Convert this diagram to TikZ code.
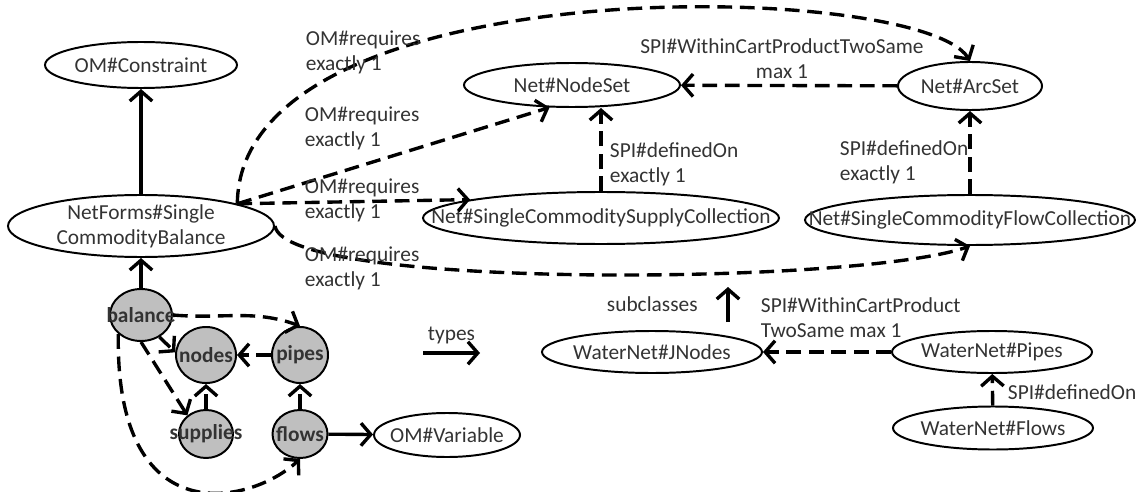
\documentclass[tikz,border=0pt]{standalone}
\usepackage{fontspec}
\setmainfont{Carlito}
\usetikzlibrary{shapes.geometric,arrows.meta}

\newcommand{\lblfont}{\fontsize{15.2}{17.8}\selectfont}

\tikzset{
  >={Straight Barb[length=7pt,width=16pt]},
  cls/.style={ellipse, draw, line width=1.4pt, inner sep=0pt},
  inst/.style={ellipse, draw, fill=gray!50, line width=1.4pt, inner sep=0pt},
  txt/.style={text=black!80},
  bold/.style={text=black!80, font=\lblfont\bfseries},
  isa/.style={->, line width=2.4pt},
  rel/.style={->, line width=2.4pt, dash pattern=on 10.5pt off 5.5pt},
}

\begin{document}
\begin{tikzpicture}[font=\lblfont]
  \useasboundingbox (0,0) rectangle (28.4,-12.3);

  % classes
  \node[cls, minimum width=4.8cm, minimum height=1.15cm,
        label={[txt]center:OM\#Constraint}] (con) at (3.525,-1.625) {};
  \node[cls, minimum width=6.65cm, minimum height=1.55cm,
        label={[txt,align=center]center:NetForms\#Single\\CommodityBalance}] (bal) at (3.525,-5.65) {};
  \node[cls, minimum width=5.4cm, minimum height=1.1cm,
        label={[txt]center:Net\#NodeSet}] (nodeset) at (14.3,-2.125) {};
  \node[cls, minimum width=3.6cm, minimum height=1.2cm,
        label={[txt]center:Net\#ArcSet}] (arcset) at (24.25,-2.15) {};
  \node[cls, minimum width=8.9cm, minimum height=1.3cm,
        label={[txt]center:Net\#SingleCommoditySupplyCollection}] (supply) at (15.025,-5.45) {};
  \node[cls, minimum width=8.25cm, minimum height=1.25cm,
        label={[txt]center:Net\#SingleCommodityFlowCollection}] (flowc) at (24.25,-5.5) {};
  \node[cls, minimum width=3.65cm, minimum height=1.1cm,
        label={[txt]center:OM\#Variable}] (var) at (11.175,-10.875) {};
  \node[cls, minimum width=5.5cm, minimum height=1.05cm,
        label={[txt]center:WaterNet\#JNodes}] (jnodes) at (16.3,-8.8) {};
  \node[cls, minimum width=5cm, minimum height=1.05cm,
        label={[txt]center:WaterNet\#Pipes}] (wpipes) at (24.8,-8.8) {};
  \node[cls, minimum width=5cm, minimum height=1.075cm,
        label={[txt]center:WaterNet\#Flows}] (wflows) at (24.825,-10.7) {};

  % instances
  \node[inst, minimum width=1.55cm, minimum height=1.3cm,
        label={[bold]center:balance}] (balance) at (3.525,-7.875) {};
  \node[inst, minimum width=1.5cm, minimum height=1.4cm,
        label={[bold]center:nodes}] (nodes) at (5.15,-8.875) {};
  \node[inst, minimum width=1.4cm, minimum height=1.4cm,
        label={[bold]center:pipes}] (pipes) at (7.5,-8.875) {};
  \node[inst, minimum width=1.35cm, minimum height=1.2cm,
        label={[bold]center:supplies}] (supplies) at (5.15,-10.85) {};
  \node[inst, minimum width=1.375cm, minimum height=1.2cm,
        label={[bold]center:flows}] (flows) at (7.5,-10.85) {};

  % class relations
  \draw[isa] (bal) -- (con);
  \draw[rel] (bal.13) .. controls (6,0.875) and (23,0.5) .. (arcset.north);
  \draw[rel] (bal.13) -- (nodeset.225);
  \draw[rel] (bal.13) -- (supply.172);
  \draw[rel] (bal.east) .. controls (7.125,-7.25) and (21.5,-7.125) .. (flowc.south);
  \draw[rel] (supply.north) -- (supply.north |- nodeset.south);
  \draw[rel] (arcset) -- (nodeset);
  \draw[rel] (flowc) -- (arcset);
  \draw[rel] (wpipes) -- (jnodes);
  \draw[rel] (wflows) -- (wpipes);

  \node[txt, anchor=west, align=left] (req1) at (7.525,-1.3) {OM\#requires\\exactly 1};
  \node[txt, anchor=west, align=left] (req2) at (7.5,-3.2) {OM\#requires\\exactly 1};
  \node[txt, anchor=west, align=left] (req3) at (7.5,-5.0) {OM\#requires\\exactly 1};
  \node[txt, anchor=west, align=left] (req4) at (7.5,-6.7) {OM\#requires\\exactly 1};
  \node[txt, align=center] (cart1) at (19.55,-1.475) {SPI\#WithinCartProductTwoSame\\max 1};
  \node[txt, anchor=west, align=left] (def1) at (15.125,-4.1) {SPI\#definedOn\\exactly 1};
  \node[txt, anchor=west, align=left] (def2) at (20.875,-4.05) {SPI\#definedOn\\exactly 1};
  \node[txt, anchor=west, align=left] (cart2) at (18.9,-7.95) {SPI\#WithinCartProduct\\TwoSame max 1};
  \node[txt, anchor=west] (def3) at (25.075,-9.8) {SPI\#definedOn};

  % instance relations
  \draw[isa] (balance) -- (bal);
  \draw[rel] (balance.east) to[out=-5, in=160] (pipes.north);
  \draw[rel] (balance.-50) -- (nodes.175);
  \draw[rel] (balance.south) -- (supplies.135);
  \draw[rel] (balance.220) .. controls (2.875,-13.375) and (6.25,-12.625) .. (flows.south);
  \draw[rel] (pipes) -- (nodes);
  \draw[rel] (supplies) -- (nodes);
  \draw[rel] (flows) -- (pipes);
  \draw[isa] (flows) -- (var);

  % legend arrows
  \coordinate (typesA) at (10.575,-8.825);
  \coordinate (typesB) at (12,-8.825);
  \draw[isa] (typesA) -- (typesB) node[midway,above=2pt,txt] (typeslbl) {types};
  \coordinate (subA) at (18.2,-8.05);
  \coordinate (subB) at (18.2,-7.175);
  \draw[isa] (subA) -- (subB) node[midway,left=0.6cm,txt] (sublbl) {subclasses};
\end{tikzpicture}
\end{document}
